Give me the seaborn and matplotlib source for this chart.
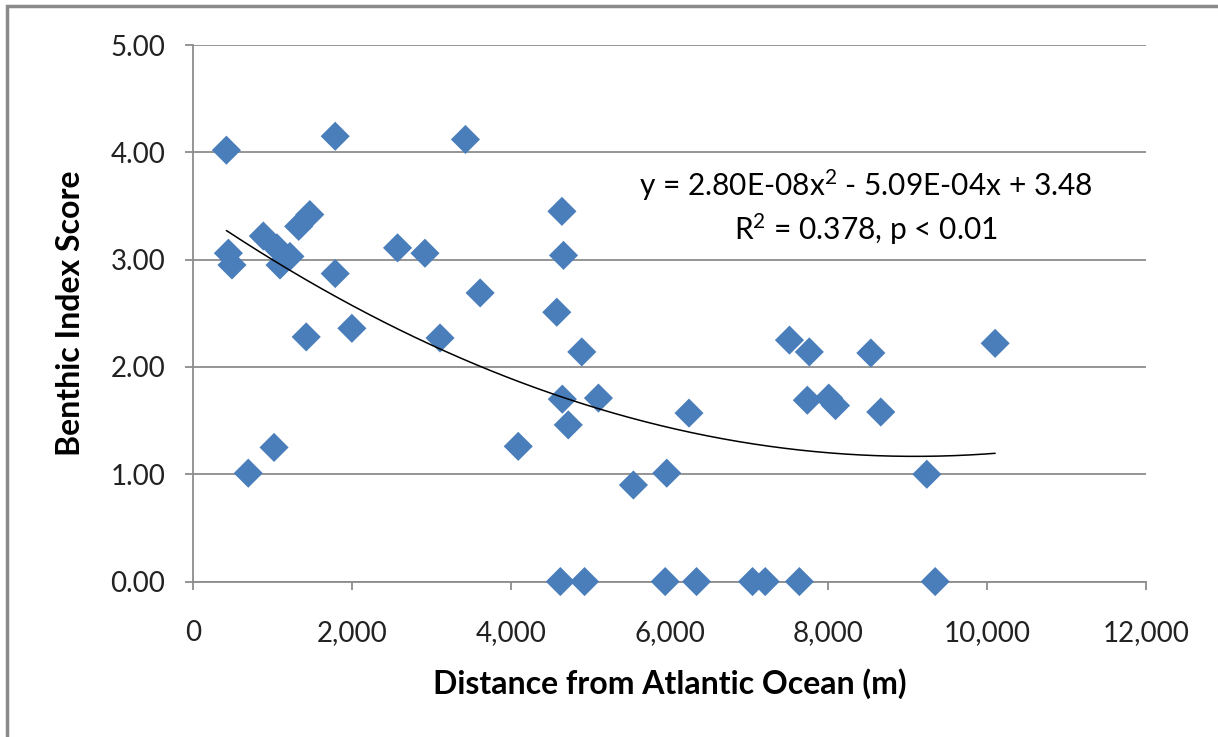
import matplotlib
matplotlib.use("Agg")
import matplotlib.pyplot as plt
from matplotlib.patches import Rectangle
from matplotlib.ticker import FuncFormatter
import numpy as np
import pandas as pd
import seaborn as sns

# Sampling sites: distance upstream from the ocean (m) and benthic index score
distance_m = [
    420, 1790, 3430, 1470, 1330, 885, 1055, 1220, 1095, 445, 490, 2575,
    2920, 1790, 3615, 1425, 2000, 3110, 4095, 1020, 695, 4645, 4665, 4580,
    4895, 4650, 5105, 4725, 6245, 5545, 5965, 7510, 7760, 8535, 10100, 7735,
    8005, 8090, 8660, 9240,
    4625, 4930, 5945, 6340, 7045, 7205, 7635, 9345,
]
benthic_score = [
    4.02, 4.15, 4.12, 3.42, 3.31, 3.22, 3.11, 3.03, 2.95, 3.06, 2.95, 3.11,
    3.06, 2.87, 2.69, 2.28, 2.36, 2.27, 1.26, 1.25, 1.01, 3.45, 3.04, 2.51,
    2.14, 1.70, 1.71, 1.46, 1.57, 0.90, 1.01, 2.25, 2.14, 2.13, 2.22, 1.69,
    1.71, 1.64, 1.58, 1.00,
    0.00, 0.00, 0.00, 0.00, 0.00, 0.00, 0.00, 0.00,
]

# Second-order polynomial trend (highest power first)
trend_coef = [2.80e-08, -5.09e-04, 3.48]
trend_r2 = 0.378

x_ticks = [0, 2000, 4000, 6000, 8000, 10000, 12000]
y_ticks = [0.0, 1.0, 2.0, 3.0, 4.0, 5.0]

df = pd.DataFrame({"distance": distance_m, "score": benthic_score})

sns.set_theme(style="white")
plt.rcParams["font.family"] = ["Lato", "DejaVu Sans"]
plt.rcParams["mathtext.fontset"] = "custom"
plt.rcParams["mathtext.rm"] = "Lato"
plt.rcParams["mathtext.it"] = "Lato"
plt.rcParams["mathtext.default"] = "regular"

fig = plt.figure(figsize=(12.18, 7.37), dpi=100)
ax = fig.add_axes([0.1585, 0.2109, 0.7824, 0.7280])

grid_col = "#8c8c8c"
ax.set_xlim(x_ticks[0], x_ticks[-1])
ax.set_ylim(y_ticks[0], y_ticks[-1])
ax.set_xticks(x_ticks)
ax.set_yticks(y_ticks)
ax.yaxis.grid(True, color=grid_col, linewidth=1.3)
ax.xaxis.grid(False)
ax.set_axisbelow(True)

sns.scatterplot(data=df, x="distance", y="score", marker="D", s=220,
                color="#4a7ebb", edgecolor="none", linewidth=0, ax=ax,
                zorder=3, clip_on=False)

# Trend curve over the observed distance range
xs = np.linspace(df["distance"].min(), df["distance"].max(), 300)
ax.plot(xs, np.polyval(trend_coef, xs), color="black", linewidth=1.1, zorder=4)

for side in ("top", "right"):
    ax.spines[side].set_visible(False)
for side in ("left", "bottom"):
    ax.spines[side].set_color(grid_col)
    ax.spines[side].set_linewidth(1.3)

ax.tick_params(axis="both", which="major", direction="out", length=6,
               width=1.3, color=grid_col, labelsize=20, labelcolor="#222222",
               bottom=True, left=True)
ax.tick_params(axis="x", pad=22)
ax.tick_params(axis="y", pad=14)
ax.xaxis.set_major_formatter(FuncFormatter(lambda v, p: f"{v:,.0f}"))
ax.yaxis.set_major_formatter(FuncFormatter(lambda v, p: f"{v:.2f}"))

ax.set_xlabel("Distance from Atlantic Ocean (m)", fontsize=23,
              fontweight="bold", color="black", labelpad=16)
ax.set_ylabel("Benthic Index Score", fontsize=23, fontweight="bold",
              color="black", labelpad=18)

a, b, c = trend_coef
eq_text = (f"y = {a:.2E}x$^{{2}}$ - {abs(b):.2E}x + {c:.2f}\n"
           f"R$^{{2}}$ = {trend_r2:.3f}, p < 0.01")
ax.text(0.706, 0.697, eq_text, transform=ax.transAxes, ha="center",
        va="center", fontsize=21.5, color="black", linespacing=1.3)

# Outer chart frame
fig.patches.append(Rectangle((7 / 1218, -0.1), 1.2, 1.1 - 6 / 737,
                             transform=fig.transFigure, fill=False,
                             edgecolor="#8a8a8a", linewidth=2.5))

fig.savefig("out.png", dpi=100)
